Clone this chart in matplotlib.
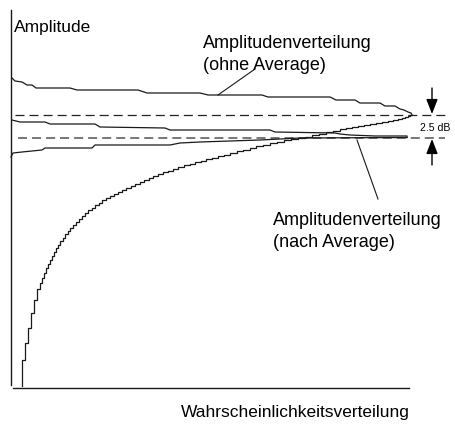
import numpy as np
import matplotlib
matplotlib.use("Agg")
import matplotlib.pyplot as plt

plt.rcParams['font.family'] = ['Liberation Sans', 'DejaVu Sans']
plt.rcParams['lines.scale_dashes'] = False

# ---- data (chart units: x = probability, y = amplitude, measured downward from top) ----
# Distribution without averaging: upper envelope
outer_upper_x = [12, 15, 22, 27, 32, 36, 70, 77, 138, 147, 200, 208, 262, 268, 330, 336,
                 355, 360, 380, 385, 395, 400, 404, 408, 411, 412]
outer_upper_y = [78, 81, 82, 85, 85, 88, 88, 90, 90, 93, 93, 95, 95, 97, 97, 100,
                 100, 103, 103, 106, 106, 109, 110, 112, 113, 115]
# Distribution without averaging: lower envelope (staircase from bottom up to the tip)
outer_lower_x = [22, 25, 28, 31, 34, 37, 40, 42, 44, 46, 48, 50, 52, 54, 56, 58, 60, 63,
                 65, 68, 70, 73, 76, 79, 82, 85, 88, 92, 95, 99, 102, 106, 110, 114, 118,
                 122, 126, 131, 135, 140, 144, 149, 153, 158, 163, 168, 173, 178, 184,
                 190, 195, 201, 206, 212, 218, 224, 230, 237, 243, 250, 256, 263, 270,
                 277, 284, 291, 298, 305, 312, 319, 326, 333, 340, 346, 352, 358, 364,
                 370, 376, 382, 388, 393, 398, 402, 405, 408, 410, 412]
outer_lower_y = [386, 360, 343, 328, 313, 300, 289, 283, 278, 273, 268, 264, 260, 256,
                 252, 248, 245, 241, 238, 234, 231, 228, 225, 222, 219, 216, 213, 210,
                 208, 205, 203, 200, 198, 196, 194, 192, 190, 188, 186, 184, 182, 180,
                 178, 176, 174, 172, 171, 169, 167, 165, 164, 162, 161, 159, 158, 156,
                 155, 153, 151, 150, 148, 146, 145, 143, 142, 140, 139, 138, 137, 135,
                 134, 132, 131, 129, 128, 127, 126, 125, 124, 123, 122, 121, 120, 119,
                 118, 117, 116, 115]
# Distribution after averaging
inner_upper_x = [12, 20, 45, 50, 95, 100, 165, 170, 270, 275, 335, 340, 350, 375, 407, 407]
inner_upper_y = [120, 122, 122, 124, 124, 127, 128, 130, 130, 132, 133, 134, 135, 136, 136, 137.5]
inner_lower_x = [11, 13, 22, 42, 45, 92, 95, 170, 180, 200, 260, 300, 407]
inner_lower_y = [157, 153, 152, 150, 148, 148, 145, 145, 143, 142, 140, 138, 137.5]

level_high = 115     # peak of distribution without average
level_low = 137.5    # peak of distribution after average
level_label = "2.5 dB"

# ---- figure ----
fig = plt.figure(figsize=(4.56, 4.26), dpi=100)
ax = fig.add_axes([0, 0, 1, 1])
ax.set_xlim(0, 456)
ax.set_ylim(426, 0)
ax.axis('off')

lc = '#1a1a1a'
lw = 0.9

# axes lines
ax.plot([11, 11], [10, 385], color=lc, lw=1.0)
ax.plot([13, 409], [388, 388], color=lc, lw=1.0)

# reference dashed lines
ax.plot([15, 445], [level_high, level_high], color='#222222', lw=0.9,
        linestyle=(0, (6.5, 3.6)))
ax.plot([18, 445], [level_low, level_low], color='#777777', lw=1.4,
        linestyle=(0, (6.5, 3.6)))

# curves
ax.plot(outer_upper_x, outer_upper_y, color=lc, lw=lw)
ax.plot(outer_lower_x, outer_lower_y, color=lc, lw=lw, drawstyle='steps-pre')
ax.plot(inner_upper_x, inner_upper_y, color=lc, lw=lw)
ax.plot(inner_lower_x, inner_lower_y, color=lc, lw=lw)

# leader lines
ax.plot([218, 255], [95, 69], color=lc, lw=0.8)
ax.plot([357, 378], [140, 199], color=lc, lw=0.8)

# 2.5 dB arrows
ax.annotate('', xy=(432, level_high - 1), xytext=(432, 88),
            arrowprops=dict(arrowstyle='-|>,head_length=0.9,head_width=0.35',
                            color='black', lw=1.0, shrinkA=0, shrinkB=0))
ax.annotate('', xy=(432, level_low + 1.5), xytext=(432, 165),
            arrowprops=dict(arrowstyle='-|>,head_length=0.9,head_width=0.35',
                            color='black', lw=1.0, shrinkA=0, shrinkB=0))
ax.text(420, 128, level_label, fontsize=7.6, ha='left', va='center', color='black')

# texts
ax.text(14, 32, "Amplitude", fontsize=12.5, ha='left', va='baseline')
ax.text(203, 48, "Amplitudenverteilung", fontsize=13, ha='left', va='baseline')
ax.text(203, 70, "(ohne Average)", fontsize=13, ha='left', va='baseline')
ax.text(273, 225, "Amplitudenverteilung", fontsize=13, ha='left', va='baseline')
ax.text(273, 247, "(nach Average)", fontsize=13, ha='left', va='baseline')
ax.text(410, 417, "Wahrscheinlichkeitsverteilung", fontsize=12.5, ha='right', va='baseline')

fig.savefig("out.png", dpi=100)
